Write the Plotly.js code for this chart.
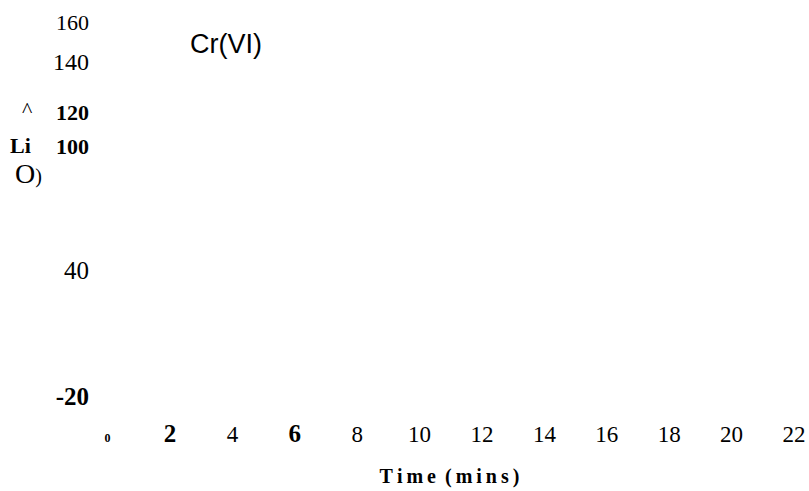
<!DOCTYPE html>
<html>
<head>
<meta charset="utf-8">
<script src="https://cdn.plot.ly/plotly-3.0.1.min.js"></script>
<style>html,body{margin:0;padding:0;background:#fff;}#chart{width:809px;height:491px;}</style>
</head>
<body>
<div id="chart"></div>
<script>
// Time axis (mins)
const timeTicks = [0, 2, 4, 6, 8, 10, 12, 14, 16, 18, 20, 22];
const timeTickLabels = ['<span style="font-size:12px"><b>0</b></span>', '<span style="font-size:25px"><b>2</b></span>', '4', '<span style="font-size:25px"><b>6</b></span>', '8', '10', '12', '14', '16', '18', '20', '22'];
// Concentration axis (tick positions as they sit in the picture)
const concTicks = [160, 141, 117, 100.5, 40.5, -20];
const concTickLabels = ['160', '<span style="font-size:24px">140</span>', '<b>120</b>', '<b>100</b>', '<span style="font-size:25px">40</span>', '<span style="font-size:25px"><b>-20</b></span>'];
// Series (no marks visible in the picture)
const seriesName = 'Cr(VI)';
const timeValues = [];
const crValues = [];
// Fragments of the y-axis title as printed
const yTitleBits = ['^', '<b>Li</b>', 'O<span style="font-size:20px">)</span>'];

const trace = {x: timeValues, y: crValues, type: 'scatter', mode: 'lines', name: seriesName, showlegend: false};

const serif = 'Liberation Serif, Times New Roman, serif';
const layout = {
  width: 809, height: 491,
  margin: {l: 90, r: 0, t: 5, b: 73, pad: 0},
  paper_bgcolor: '#fff', plot_bgcolor: '#fff',
  showlegend: false,
  xaxis: {
    range: [-0.564, 22.48], tickmode: 'array', tickvals: timeTicks, ticktext: timeTickLabels,
    showgrid: false, zeroline: false, showline: false, ticks: '', automargin: false,
    tickfont: {family: serif, size: 23, color: '#000'},
    title: {text: '<b>T\u2009i\u2009m\u2009e\u2009\u00a0(\u2009m\u2009i\u2009n\u2009s\u2009)</b>', font: {family: serif, size: 20, color: '#000'}, standoff: 22}
  },
  yaxis: {
    range: [-30.09, 168.41], tickmode: 'array', tickvals: concTicks, ticktext: concTickLabels,
    showgrid: false, zeroline: false, showline: false, ticks: '', automargin: false,
    tickfont: {family: serif, size: 22, color: '#000'}
  },
  annotations: [
    {text: seriesName, x: 3.78, y: 149.9, xref: 'x', yref: 'y', showarrow: false, xanchor: 'center', yanchor: 'middle', font: {family: 'Liberation Sans, Arial, sans-serif', size: 27, color: '#000'}},
    {text: yTitleBits[0], x: -0.0876, y: 0.747, xref: 'paper', yref: 'paper', showarrow: false, xanchor: 'center', yanchor: 'middle', font: {family: serif, size: 22, color: '#000'}},
    {text: yTitleBits[1], x: -0.096, y: 0.6586, xref: 'paper', yref: 'paper', showarrow: false, xanchor: 'center', yanchor: 'middle', font: {family: serif, size: 22, color: '#000'}},
    {text: yTitleBits[2], x: -0.0862, y: 0.592, xref: 'paper', yref: 'paper', showarrow: false, xanchor: 'center', yanchor: 'middle', font: {family: serif, size: 28, color: '#000'}}
  ]
};

Plotly.newPlot('chart', [trace], layout, {displayModeBar: false, staticPlot: true});
</script>
</body>
</html>
